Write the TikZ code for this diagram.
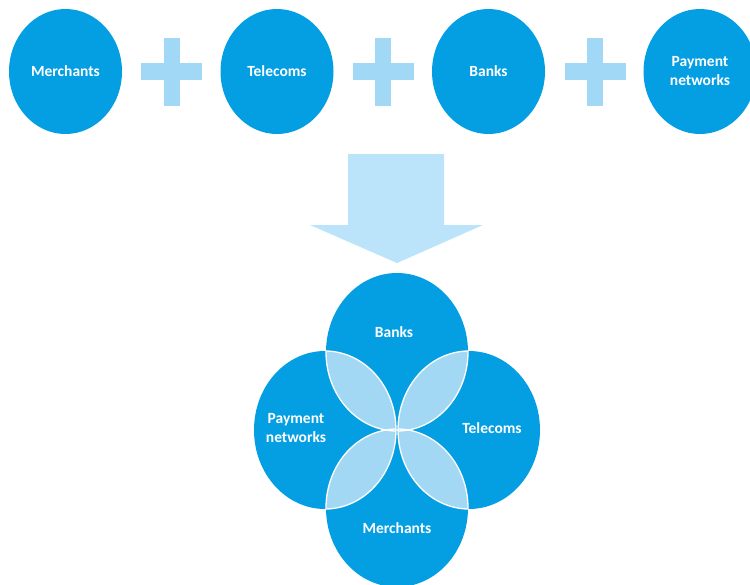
\documentclass[tikz,border=0pt]{standalone}
\usepackage{fontspec}
\setmainfont{Carlito}
\usetikzlibrary{shapes.geometric}
\definecolor{dblue}{HTML}{049FE3}
\definecolor{plusblue}{HTML}{A0D8F5}
\definecolor{arrowblue}{HTML}{BBE3F9}
\definecolor{lensblue}{HTML}{A3D8F5}
\tikzset{
  topcirc/.style={ellipse, fill=dblue, minimum width=113pt, minimum height=125pt, inner sep=0pt,
    text=white, font=\bfseries\fontsize{15.5}{19}\selectfont, align=center},
  lbl/.style={text=white, font=\bfseries\fontsize{15.5}{19}\selectfont, align=center, inner sep=0pt},
  plusfill/.style={fill=plusblue},
  eB/.style={insert path={(397,352) ellipse [x radius=71pt, y radius=79pt]}},
  eT/.style={insert path={(469,430) ellipse [x radius=71pt, y radius=79pt]}},
  eM/.style={insert path={(397,508) ellipse [x radius=71pt, y radius=79pt]}},
  eP/.style={insert path={(325,430) ellipse [x radius=71pt, y radius=79pt]}},
  lensline/.style={draw=white, line width=1.3pt},
}
\begin{document}
\begin{tikzpicture}[x=1pt,y=-1pt]
\useasboundingbox (0,0) rectangle (750,584);
% top row
\node[topcirc] (merch) at (65.5,71.5) {Merchants};
\node[topcirc] (tele) at (277,71.5) {Telecoms};
\node[topcirc] (bank) at (488.5,71.5) {Banks};
\node[topcirc] (pay) at (700,71.5) {Payment\\networks};
% plus signs
\foreach \cx/\nm in {171.5/p1, 383/p2, 595/p3}{
  \fill[plusfill] (\cx-30.5,63) rectangle (\cx+30.5,80);
  \fill[plusfill] (\cx-8,38) rectangle (\cx+8,106);
  \coordinate (\nm) at (\cx,71.5);
}
% big arrow
\fill[arrowblue] (348,154) -- (444,154) -- (444,225) -- (483,225) -- (397,263)
  -- (310,225) -- (348,225) -- cycle;
% venn
\fill[dblue, eB];
\fill[dblue, eT];
\fill[dblue, eM];
\fill[dblue, eP];
\begin{scope}\clip[eB]; \fill[lensblue, eT]; \fill[lensblue, eP]; \end{scope}
\begin{scope}\clip[eM]; \fill[lensblue, eT]; \fill[lensblue, eP]; \end{scope}
\begin{scope}\clip[eB]; \path[lensline, eT]; \path[lensline, eP]; \end{scope}
\begin{scope}\clip[eM]; \path[lensline, eT]; \path[lensline, eP]; \end{scope}
\begin{scope}\clip[eT]; \path[lensline, eB]; \path[lensline, eM]; \end{scope}
\begin{scope}\clip[eP]; \path[lensline, eB]; \path[lensline, eM]; \end{scope}
\node[lbl] (vbank) at (394,332) {Banks};
\node[lbl] (vtele) at (492,428) {Telecoms};
\node[lbl] (vmerch) at (397,528) {Merchants};
\node[lbl] (vpay) at (296,428) {Payment\\networks};
\end{tikzpicture}
\end{document}
